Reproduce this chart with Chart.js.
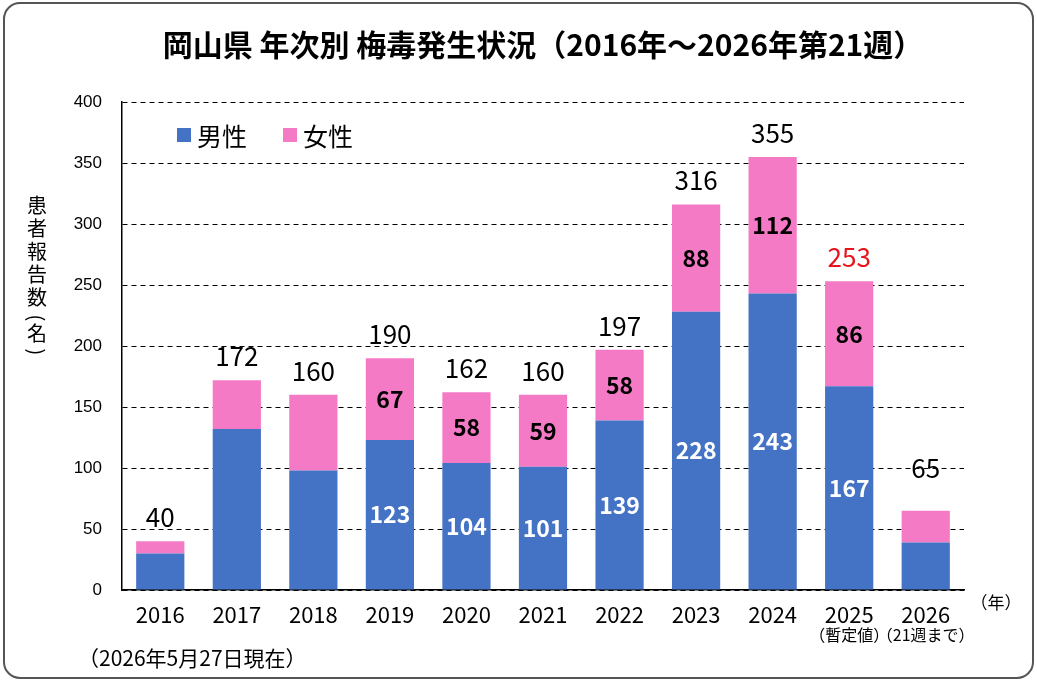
<!DOCTYPE html>
<html>
<head>
<meta charset="utf-8">
<script src="https://cdn.jsdelivr.net/npm/chart.js@4"></script>
<style>
  html, body { margin: 0; padding: 0; background: #fff; }
  #wrap { position: relative; width: 1037px; height: 682px; }
</style>
</head>
<body>
<div id="wrap"><canvas id="syphChart" width="1037" height="682"></canvas></div>
<script>
const years = ['2016', '2017', '2018', '2019', '2020', '2021', '2022', '2023', '2024', '2025', '2026'];
const yearNotes = ['', '', '', '', '', '', '', '', '', '（暫定値）', '（21週まで）'];
const male = [30, 132, 98, 123, 104, 101, 139, 228, 243, 167, 39];
const female = [10, 40, 62, 67, 58, 59, 58, 88, 112, 86, 26];
const totals = [40, 172, 160, 190, 162, 160, 197, 316, 355, 253, 65];
const showInner = [false, false, false, true, true, true, true, true, true, true, false];
const yTicks = [0, 50, 100, 150, 200, 250, 300, 350, 400];

const JP = '"Noto Sans CJK JP", "Noto Sans", sans-serif';

// total label sits higher on the last bar in the original
function totalLift(i) {
    return i === years.length - 1 ? 43 : 24;
}

// titles, labels, legend, frame
const extras = {
    id: 'extras',
    afterDatasetsDraw(chart) {
        const ctx = chart.ctx;
        const mMeta = chart.getDatasetMeta(0);
        const fMeta = chart.getDatasetMeta(1);
        ctx.save();
        ctx.textAlign = 'center';
        ctx.textBaseline = 'middle';

        years.forEach((y, i) => {
            const mb = mMeta.data[i];
            const fb = fMeta.data[i];
            if (showInner[i]) {
                ctx.font = 'bold 23px ' + JP;
                ctx.fillStyle = '#fff';
                ctx.fillText(String(male[i]), mb.x, (mb.y + mb.base) / 2);
                ctx.fillStyle = '#000';
                ctx.fillText(String(female[i]), fb.x, (fb.y + fb.base) / 2);
            }
            ctx.font = '26px ' + JP;
            ctx.fillStyle = i === 9 ? '#e8141c' : '#000';
            ctx.fillText(String(totals[i]), fb.x, fb.y - totalLift(i));

            if (yearNotes[i]) {
                ctx.font = '16px ' + JP;
                ctx.fillStyle = '#000';
                ctx.fillText(yearNotes[i], fb.x, 635);
            }
        });
        ctx.restore();
    },
    afterDraw(chart) {
        const ctx = chart.ctx;
        const area = chart.chartArea;
        ctx.save();

        // frame
        ctx.strokeStyle = '#555';
        ctx.lineWidth = 2;
        ctx.beginPath();
        ctx.roundRect(4, 3, 1029, 675, 16);
        ctx.stroke();

        // title
        ctx.fillStyle = '#000';
        ctx.textAlign = 'center';
        ctx.textBaseline = 'middle';
        ctx.font = 'bold 30px ' + JP;
        ctx.fillText('岡山県 年次別 梅毒発生状況（2016年～2026年第21週）', (area.left + area.right) / 2, 45);

        // y-axis title, written vertically
        const yTitle = '患者報告数(名)';
        ctx.font = '20px ' + JP;
        let ty = 205;
        for (const ch of yTitle) {
            if (ch === '(' || ch === ')') {
                ty += ch === '(' ? -2 : -4;
                ctx.save();
                ctx.translate(37, ty);
                ctx.rotate(Math.PI / 2);
                ctx.fillText(ch, 0, 0);
                ctx.restore();
                ty += 15;
            } else {
                ctx.fillText(ch, 37, ty);
                ty += 23;
            }
        }

        // unit and footnote
        ctx.font = '17px ' + JP;
        ctx.fillText('（年）', 996, 603);
        ctx.textAlign = 'left';
        ctx.font = '21px ' + JP;
        ctx.fillText('（2026年5月27日現在）', 78, 658);

        // legend
        ctx.font = '25px ' + JP;
        let lx = 177;
        chart.data.datasets.forEach(ds => {
            ctx.fillStyle = ds.backgroundColor;
            ctx.fillRect(lx, 128, 14, 14);
            ctx.fillStyle = '#000';
            ctx.fillText(ds.label, lx + 20, 136);
            lx += 106;
        });
        ctx.restore();
    }
};

new Chart(document.getElementById('syphChart'), {
    type: 'bar',
    data: {
        labels: years,
        datasets: [
            { label: '男性', data: male, backgroundColor: '#4472C4' },
            { label: '女性', data: female, backgroundColor: '#F47AC6' }
        ]
    },
    options: {
        responsive: false,
        animation: false,
        layout: { padding: { top: 102, right: 73, left: 0, bottom: 0 } },
        datasets: { bar: { categoryPercentage: 1, barPercentage: 0.63 } },
        plugins: {
            legend: { display: false },
            title: { display: false },
            tooltip: { enabled: false }
        },
        scales: {
            x: {
                stacked: true,
                grid: { display: false },
                border: { display: true, color: '#000', width: 1.5 },
                ticks: {
                    color: '#000',
                    font: { size: 22, family: JP },
                    padding: 3
                },
                afterFit(scale) { scale.height = 92; }
            },
            y: {
                stacked: true,
                min: 0,
                max: 400,
                afterBuildTicks(scale) { scale.ticks = yTicks.map(v => ({ value: v })); },
                grid: { color: '#000', lineWidth: 1, drawTicks: false },
                border: { display: true, color: '#000', width: 1.5, dash: [5, 4] },
                ticks: {
                    color: '#000',
                    font: { size: 17, family: '"Liberation Sans", Arial, sans-serif' },
                    padding: 20
                },
                afterFit(scale) { scale.width = 122; }
            }
        }
    },
    plugins: [extras]
});
</script>
</body>
</html>
